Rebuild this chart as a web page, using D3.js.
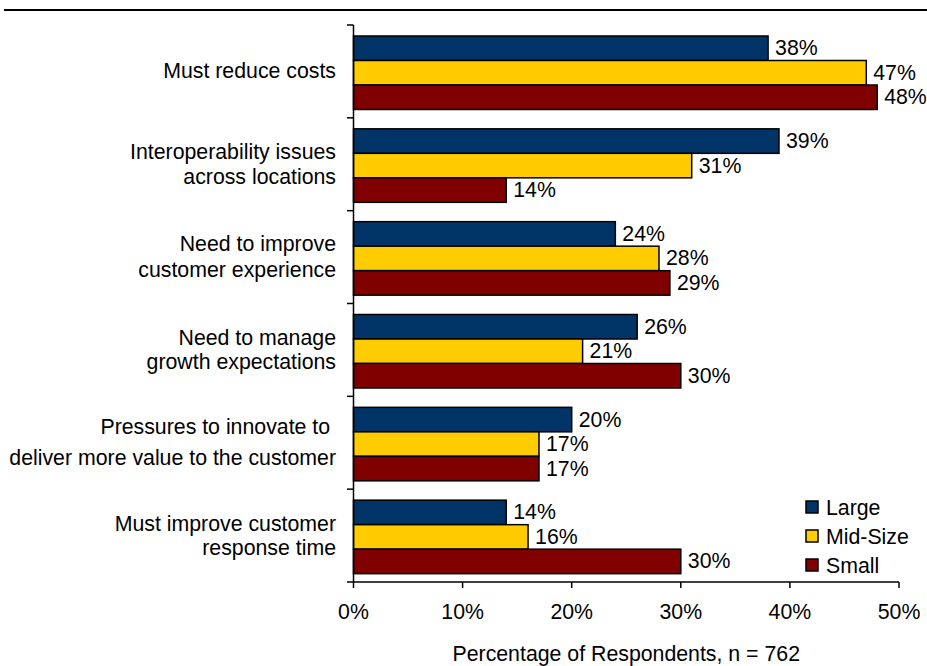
<!DOCTYPE html>
<html><head><meta charset="utf-8">
<script src="https://cdn.jsdelivr.net/npm/d3@7/dist/d3.min.js"></script>
<style>
html,body{margin:0;padding:0;background:#fff;}
svg{display:block;font-family:"Liberation Sans",Arial,sans-serif;}
</style></head>
<body>
<svg id="chart" width="927" height="666"></svg>
<script>
const categories = [
  ["Must reduce costs"],
  ["Interoperability issues", "across locations"],
  ["Need to improve", "customer experience"],
  ["Need to manage", "growth expectations"],
  ["Pressures to innovate to ", "deliver more value to the customer"],
  ["Must improve customer", "response time"]
];
const seriesNames = ["Large", "Mid-Size", "Small"];
const large   = [38, 39, 24, 26, 20, 14];
const midSize = [47, 31, 28, 21, 17, 16];
const small   = [48, 14, 29, 30, 17, 30];
const seriesValues = [large, midSize, small];
const seriesColors = ["#003366", "#FFCC00", "#800000"];
const xTicks = [0, 10, 20, 30, 40, 50];
const xTitle = "Percentage of Respondents, n = 762";

const svg = d3.select("#chart");
const fs = 21.3;

// top rule
svg.append("line").attr("x1", 4).attr("x2", 927).attr("y1", 10).attr("y2", 10)
  .attr("stroke", "#000").attr("stroke-width", 2);

const x = d3.scaleLinear().domain([0, 50]).range([353.5, 899]);
const y = d3.scaleBand().domain(d3.range(categories.length)).range([25, 582]).padding(0);
const inner = d3.scaleBand().domain(d3.range(seriesNames.length)).range([11, 84.5]).padding(0);

// bars
seriesValues.forEach((vals, si) => {
  const g = svg.append("g");
  g.selectAll("rect").data(vals).join("rect")
    .attr("x", x(0))
    .attr("y", (d, i) => y(i) + inner(si))
    .attr("width", d => x(d) - x(0))
    .attr("height", inner.bandwidth())
    .attr("fill", seriesColors[si])
    .attr("stroke", "#000").attr("stroke-width", 1.5);
  g.selectAll("text").data(vals).join("text")
    .attr("x", d => x(d) + 7)
    .attr("y", (d, i) => y(i) + inner(si) + inner.bandwidth() / 2 + 7)
    .attr("font-size", fs).attr("fill", "#000")
    .text(d => d + "%");
});

// y axis
const ya = svg.append("g");
ya.append("line").attr("x1", 353.5).attr("x2", 353.5).attr("y1", 25).attr("y2", 582)
  .attr("stroke", "#000").attr("stroke-width", 1.5);
const bounds = d3.range(categories.length + 1).map(i => i < categories.length ? y(i) : y.range()[1]);
ya.selectAll("line.t").data(bounds).join("line").attr("class", "t")
  .attr("x1", 347).attr("x2", 353.5).attr("y1", d => d).attr("y2", d => d)
  .attr("stroke", "#000").attr("stroke-width", 1.5);

// category labels
const lineGap = [0, 25, 26, 24, 31, 24];
categories.forEach((lines, i) => {
  const cy = y(i) + y.bandwidth() / 2;
  const gap = lineGap[i];
  const t = svg.append("text").attr("text-anchor", "end").attr("font-size", fs).attr("fill", "#000");
  const n = lines.length;
  lines.forEach((s, j) => {
    const off = (j - (n - 1) / 2) * gap;
    t.append("tspan").attr("x", 336).attr("y", cy + off + 7).attr("xml:space", "preserve").text(s);
  });
});

// x axis
const xa = svg.append("g").attr("transform", "translate(0,582)");
xa.append("line").attr("x1", x(0)).attr("x2", x(50)).attr("stroke", "#000").attr("stroke-width", 1.5);
xa.selectAll("line.t").data(xTicks).join("line").attr("class", "t")
  .attr("x1", d => x(d)).attr("x2", d => x(d)).attr("y1", 0).attr("y2", 6)
  .attr("stroke", "#000").attr("stroke-width", 1.5);
xa.selectAll("text").data(xTicks).join("text")
  .attr("x", d => x(d)).attr("y", 37).attr("text-anchor", "middle")
  .attr("font-size", fs).attr("fill", "#000").text(d => d + "%");

svg.append("text").attr("x", (x(0) + x(50)) / 2).attr("y", 661).attr("text-anchor", "middle")
  .attr("font-size", fs).attr("fill", "#000").text(xTitle);

// legend
const lg = svg.append("g");
seriesNames.forEach((name, i) => {
  const yy = 501 + i * 29;
  lg.append("rect").attr("x", 806).attr("y", yy).attr("width", 12).attr("height", 12)
    .attr("fill", seriesColors[i]).attr("stroke", "#000").attr("stroke-width", 1.5);
  lg.append("text").attr("x", 826).attr("y", yy + 14).attr("font-size", fs).attr("fill", "#000").text(name);
});
</script>
</body></html>
